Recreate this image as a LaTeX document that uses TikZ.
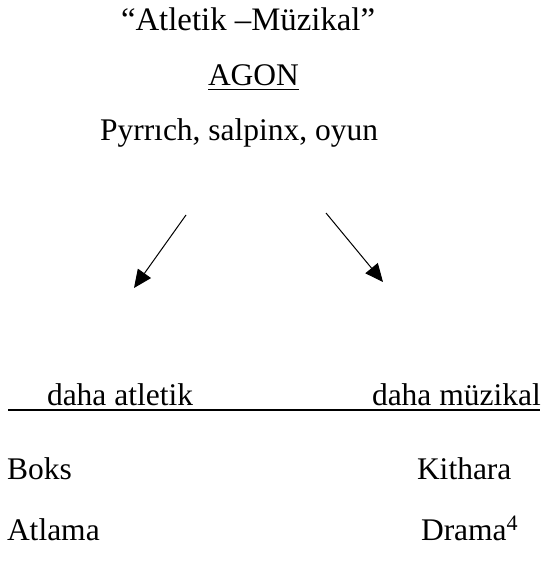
\documentclass[tikz,border=0pt]{standalone}
\usepackage{fontspec}
\setmainfont{Liberation Serif}
\usetikzlibrary{arrows.meta}
\tikzset{
  txt/.style={anchor=base west, inner sep=0pt, outer sep=0pt, font=\fontsize{31.5}{38}\selectfont},
  arr/.style={line width=1pt, -{Triangle[length=18pt,width=16pt]}},
  rule/.style={line width=2pt}
}
\begin{document}
\begin{tikzpicture}[x=1pt,y=-1pt]
\useasboundingbox (0,0) rectangle (544,567);
\node[txt, font=\fontsize{32.8}{38}\selectfont] (title) at (121,31) {“Atletik –Müzikal”};
\node[txt] (agon) at (208,86) {AGON};
\draw[line width=1.5pt] ([yshift=-3.5pt]agon.base west) -- ([yshift=-3.5pt]agon.base east);
\node[txt] (sub) at (100,140) {Pyrrıch, salpinx, oyun};
\coordinate (l1) at (186,215);
\coordinate (l2) at (134,288);
\coordinate (r1) at (326,213);
\coordinate (r2) at (383,282);
\draw[arr] (l1) -- (l2);
\draw[arr] (r1) -- (r2);
\node[txt] (atl) at (47,405) {daha atletik};
\node[txt] (muz) at (372,405) {daha müzikal};
\coordinate (ul) at (8,409.5);
\coordinate (ur) at (540,409.5);
\draw[rule] (ul) -- (ur);
\node[txt] (boks) at (7,479) {Boks};
\node[txt] (kith) at (417,479) {Kithara};
\node[txt] (atla) at (7,540) {Atlama};
\node[txt] (drama) at (421,540) {Drama\textsuperscript{4}};
\end{tikzpicture}
\end{document}
